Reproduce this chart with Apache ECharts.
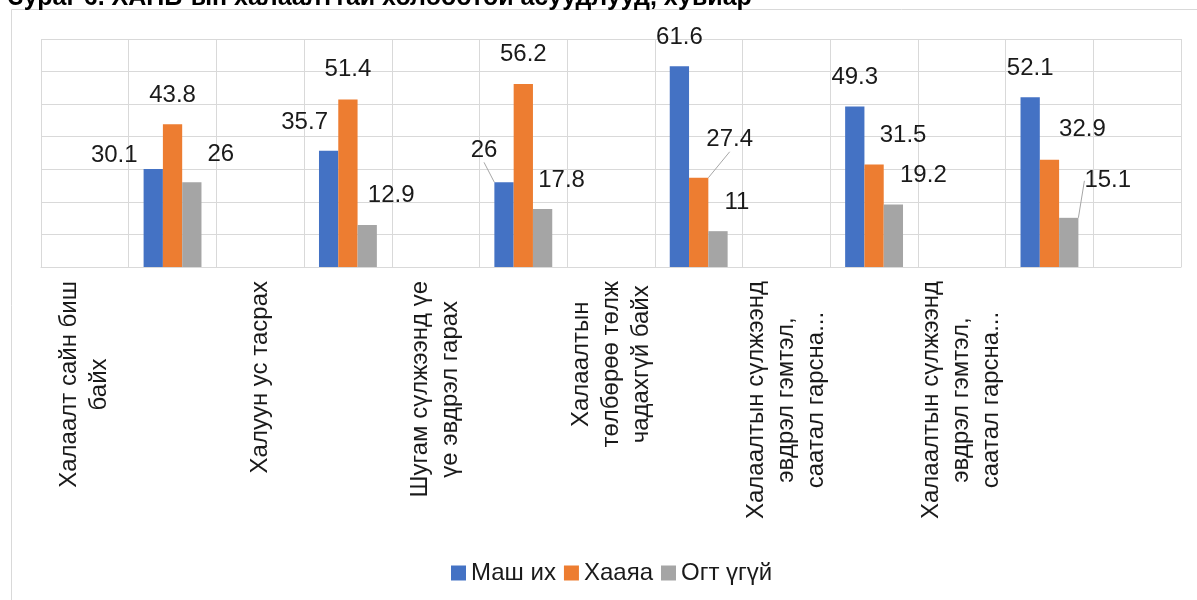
<!DOCTYPE html>
<html>
<head>
<meta charset="utf-8">
<script src="https://cdn.jsdelivr.net/npm/echarts@6/dist/echarts.min.js"></script>
<style>
  html, body { margin: 0; padding: 0; background: #fff; }
  #chart { width: 1197px; height: 600px; }
</style>
</head>
<body>
<div id="chart"></div>
<script>
// категориуд: excel дээр нэр ба утга нь ээлжлэн байрласан
const categories = [
  'Халаалт сайн биш\nбайх', '',
  'Халуун ус тасрах', '',
  'Шугам сүлжээнд үе\nүе эвдрэл гарах', '',
  'Халаалтын\nтөлбөрөө төлж\nчадахгүй байх', '',
  'Халаалтын сүлжээнд\nэвдрэл гэмтэл,\nсаатал гарсна...', '',
  'Халаалтын сүлжээнд\nэвдрэл гэмтэл,\nсаатал гарсна...', '',
  ''
];
const seriesNames = ['Маш их', 'Хааяа', 'Огт үгүй'];
const mashIkh = [null, 30.1, null, 35.7, null, 26, null, 61.6, null, 49.3, null, 52.1, null];
const khaaya = [null, 43.8, null, 51.4, null, 56.2, null, 27.4, null, 31.5, null, 32.9, null];
const ogtUgui = [null, 26, null, 12.9, null, 17.8, null, 11, null, 19.2, null, 15.1, null];

// шошгоны байрлалын шилжилт (бүлэг бүрт)
const labelShift = [
  [[-39, -2], [-24, -16], [-20, -20], [0, -17], [0, -17], [0, -17]],
  [[0, -17], [0, -18], [0, -18], [31, -26], [29, -17], [33, -18]],
  [[29, -16], [24, -18], [19, -17], [19, -17], [30, -17], [39, -25]]
];
const leaderLines = [[5], [7], [11]];

const colors = ['#4472C4', '#ED7D31', '#A5A5A5'];
const font = 'Liberation Sans, Arial, sans-serif';

const myChart = echarts.init(document.getElementById('chart'));

const makeSeries = (values, si) => ({
  name: seriesNames[si],
  type: 'bar',
  barGap: 0,
  barCategoryGap: '34%',
  data: values.map((v, i) => leaderLines[si].includes(i)
    ? { value: v, labelLine: { show: true } }
    : v),
  itemStyle: { color: colors[si] },
  label: {
    show: true,
    position: 'top',
    distance: 0,
    fontFamily: font,
    fontSize: 24,
    color: '#1a1a1a'
  },
  labelLine: {
    show: false,
    lineStyle: { color: '#a6a6a6', width: 1 }
  },
  labelLayout: (p) => {
    const s = labelShift[si][(p.dataIndex - 1) / 2];
    return s ? { dx: s[0], dy: s[1] } : {};
  }
});

myChart.setOption({
  animation: false,
  color: colors,
  graphic: [
    {
      type: 'rect',
      shape: { x: 11.5, y: 9.5, width: 1300, height: 700 },
      style: { fill: 'none', stroke: '#d9d9d9', lineWidth: 1 }
    },
    {
      type: 'text',
      left: 8,
      top: -14,
      style: {
        text: 'Зураг 6. ХАНБ-ын халаалттай холбоотой асуудлууд, хувиар',
        font: 'bold 25px Liberation Sans, Arial, sans-serif',
        fill: '#000'
      }
    }
  ],
  legend: {
    left: 446,
    top: 556,
    itemWidth: 15,
    itemHeight: 15,
    itemGap: 8,
    icon: 'rect',
    textStyle: { fontFamily: font, fontSize: 24, color: '#1a1a1a' },
    data: seriesNames
  },
  grid: {
    left: 41,
    top: 39,
    width: 1140,
    height: 228
  },
  xAxis: {
    type: 'category',
    data: categories,
    axisTick: { show: false },
    axisLine: { lineStyle: { color: '#d9d9d9' } },
    splitLine: { show: true, lineStyle: { color: '#d9d9d9' } },
    axisLabel: {
      interval: 0,
      rotate: 90,
      margin: 14,
      formatter: (v) => v.split('\n').map((l) => '{c|' + l + '}').join('\n'),
      rich: {
        c: {
          align: 'center',
          fontFamily: font,
          fontSize: 24,
          lineHeight: 30,
          color: '#1a1a1a'
        }
      }
    }
  },
  yAxis: {
    type: 'value',
    min: 0,
    max: 70,
    interval: 10,
    axisLabel: { show: false },
    axisLine: { show: false },
    axisTick: { show: false },
    splitLine: { lineStyle: { color: '#d9d9d9' } }
  },
  series: [
    makeSeries(mashIkh, 0),
    makeSeries(khaaya, 1),
    makeSeries(ogtUgui, 2)
  ]
});
</script>
</body>
</html>
